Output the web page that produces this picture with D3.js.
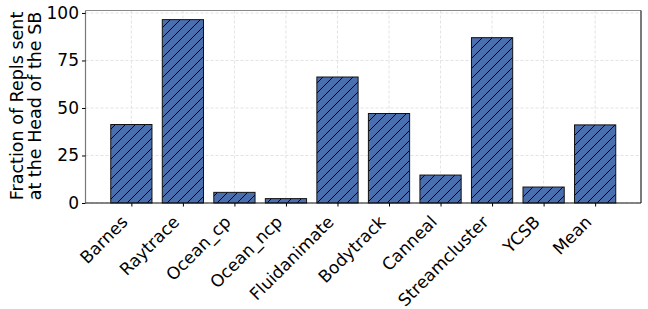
<!DOCTYPE html>
<html><head><meta charset="utf-8">
<script src="https://cdn.jsdelivr.net/npm/d3@7"></script>
<style>body{margin:0;background:#fff;} svg{display:block;font-family:"DejaVu Sans",sans-serif;}</style>
</head><body>
<svg id="c" width="648" height="309"></svg>
<script>
const categories = ["Barnes","Raytrace","Ocean_cp","Ocean_ncp","Fluidanimate","Bodytrack","Canneal","Streamcluster","YCSB","Mean"];
const values = [41.3, 96.5, 5.6, 2.3, 66.3, 47.1, 14.7, 87.0, 8.4, 41.1];
const yTicks = [0, 25, 50, 75, 100];
const yLabelLines = ["Fraction of Repls sent", "at the Head of the SB"];

const svg = d3.select("#c");
const L = 85.5, R = 641, T = 10.5, B = 203;
const x = d3.scaleLinear().domain([-0.89, 9.89]).range([L, R]);
const y = d3.scaleLinear().domain([0, 101.3]).range([B, T]);
const barW = 0.8;

const defs = svg.append("defs");
const P = 10;
const pat = defs.append("pattern").attr("id","hatch").attr("patternUnits","userSpaceOnUse")
  .attr("width",P).attr("height",P);
pat.append("rect").attr("width",P).attr("height",P).attr("fill","#4a6fae");
pat.append("path").attr("d",`M-2,2 L2,-2 M0,${P} L${P},0 M${P-2},${P+2} L${P+2},${P-2}`).attr("stroke","#000").attr("stroke-width",1);

// grid
svg.append("g").selectAll("line").data(yTicks).join("line")
  .attr("x1",L).attr("x2",R).attr("y1",d=>y(d)).attr("y2",d=>y(d))
  .attr("stroke","#dcdcdc").attr("stroke-width",0.8).attr("stroke-dasharray","3,2");
svg.append("g").selectAll("line").data(categories).join("line")
  .attr("x1",(d,i)=>x(i)).attr("x2",(d,i)=>x(i)).attr("y1",T).attr("y2",B)
  .attr("stroke","#dcdcdc").attr("stroke-width",0.8).attr("stroke-dasharray","3,2");

// bars
svg.append("g").selectAll("rect").data(values).join("rect")
  .attr("x",(d,i)=>x(i-barW/2)).attr("width",x(barW)-x(0))
  .attr("y",d=>y(d)).attr("height",d=>y(0)-y(d))
  .attr("fill","url(#hatch)").attr("stroke","#111").attr("stroke-width",1);

// spines
svg.append("line").attr("x1",L).attr("x2",R).attr("y1",T).attr("y2",T).attr("stroke","#888").attr("stroke-width",1.2);
svg.append("line").attr("x1",L).attr("x2",L).attr("y1",T).attr("y2",B).attr("stroke","#777").attr("stroke-width",1.2);
svg.append("line").attr("x1",R).attr("x2",R).attr("y1",T).attr("y2",B).attr("stroke","#222").attr("stroke-width",1.2);
svg.append("line").attr("x1",L).attr("x2",R).attr("y1",B).attr("y2",B).attr("stroke","#111").attr("stroke-width",1.2);

// y axis
const yAxis = svg.append("g").attr("transform",`translate(${L},0)`)
  .call(d3.axisLeft(y).tickValues(yTicks).tickSize(3.5).tickPadding(3));
yAxis.select(".domain").remove();
yAxis.attr("font-size",17).attr("font-family","DejaVu Sans");
yAxis.selectAll("text").attr("fill","#000");

// x axis
const xAxis = svg.append("g").attr("transform",`translate(0,${B})`)
  .call(d3.axisBottom(x).tickValues(d3.range(categories.length)).tickFormat(i=>categories[i]).tickSize(3.5).tickPadding(3));
xAxis.select(".domain").remove();
xAxis.attr("font-size",17).attr("font-family","DejaVu Sans");
xAxis.selectAll("text").attr("fill","#000")
  .attr("text-anchor","end").attr("x",0).attr("y",0).attr("dy",0)
  .attr("transform","translate(-3,20) rotate(-45)");

// y label
const yl = svg.append("text").attr("transform","translate(23,106) rotate(-90)")
  .attr("text-anchor","middle").attr("font-size",17.5).attr("fill","#000").attr("font-family","DejaVu Sans");
yl.selectAll("tspan").data(yLabelLines).join("tspan")
  .attr("x",0).attr("dy",(d,i)=>i===0?0:18).text(d=>d);
</script>
</body></html>
